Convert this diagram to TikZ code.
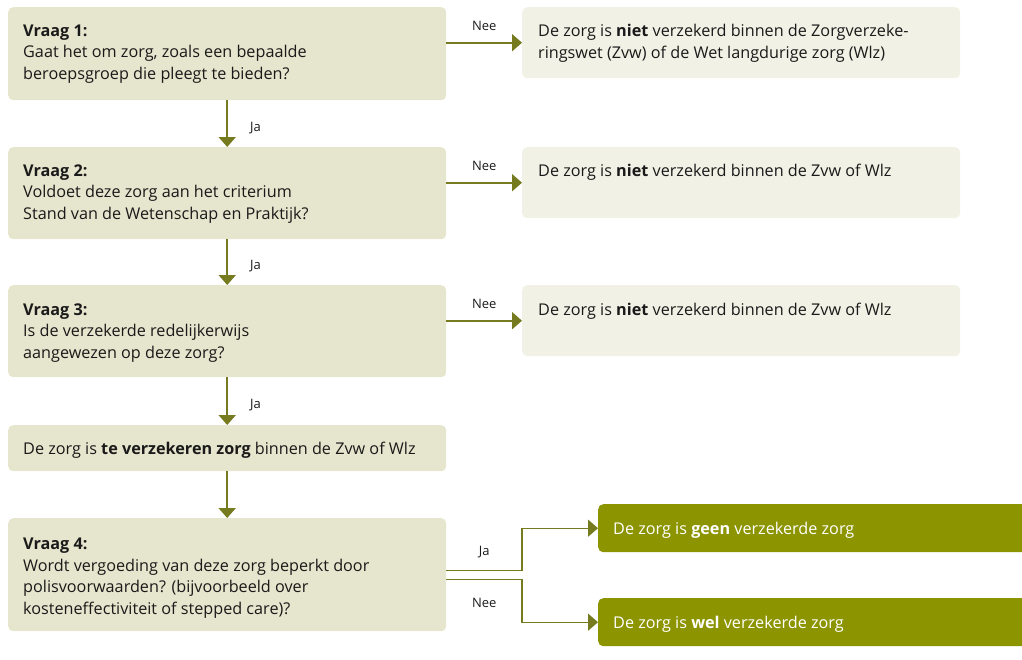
\documentclass[tikz,border=0pt]{standalone}
\usepackage{fontspec}
\setmainfont{Open Sans}
\usetikzlibrary{arrows.meta}
\definecolor{vraagkleur}{HTML}{E6E5CD}
\definecolor{nietkleur}{HTML}{F2F1E5}
\definecolor{donkerkleur}{HTML}{8C9400}
\definecolor{pijlkleur}{HTML}{757B1E}
\definecolor{tekstkleur}{HTML}{1A1A1A}
\tikzstyle{vak}=[rounded corners=5pt, inner sep=0pt, anchor=north west]
\tikzstyle{vraagvak}=[vak, fill=vraagkleur, minimum width=438pt]
\tikzstyle{nietvak}=[vak, fill=nietkleur, minimum width=438pt, minimum height=71pt]
\tikzstyle{welvak}=[vak, fill=donkerkleur, minimum width=440pt, minimum height=48pt]
\tikzstyle{tekst}=[anchor=base west, inner sep=0pt, align=left,
    font=\fontsize{16.2}{21.5}\selectfont, text=tekstkleur]
\tikzstyle{keuze}=[inner sep=0pt, font=\fontsize{13}{15}\selectfont, text=tekstkleur]
\tikzstyle{pijl}=[draw=pijlkleur, line width=2pt, -{Triangle[length=10pt,width=17pt]}]
\tikzstyle{dunpijl}=[pijl, line width=1.4pt]

\begin{document}
\begin{tikzpicture}[x=1pt, y=-1pt]
    \clip (0,0) rectangle (1022,659);
    \node[vraagvak, minimum height=93pt] (v1) at (8,7) {};
    \node[nietvak] (n1) at (522,7) {};
    \node[vraagvak, minimum height=92pt] (v2) at (8,147) {};
    \node[nietvak] (n2) at (522,147) {};
    \node[vraagvak, minimum height=92pt] (v3) at (8,285) {};
    \node[nietvak] (n3) at (522,285) {};
    \node[vraagvak, minimum height=46pt] (tv) at (8,425) {};
    \node[vraagvak, minimum height=113pt] (v4) at (8,518) {};
    \node[welvak] (geen) at (598,504) {};
    \node[welvak] (wel) at (598,598) {};
    \coordinate (knik) at (522,0);

    \node[tekst] (v1t) at (23,79) {\textbf{Vraag 1:}\\Gaat het om zorg, zoals een bepaalde\\beroepsgroep die pleegt te bieden?};
    \node[tekst] (n1t) at (538,58) {De zorg is \textbf{niet} verzekerd binnen de Zorgverzeke-\\ringswet (Zvw) of de Wet langdurige zorg (Wlz)};
    \node[tekst] (v2t) at (23,219) {\textbf{Vraag 2:}\\Voldoet deze zorg aan het criterium\\Stand van de Wetenschap en Praktijk?};
    \node[tekst] (n2t) at (538,176) {De zorg is \textbf{niet} verzekerd binnen de Zvw of Wlz};
    \node[tekst] (v3t) at (23,358) {\textbf{Vraag 3:}\\Is de verzekerde redelijkerwijs\\aangewezen op deze zorg?};
    \node[tekst] (n3t) at (538,315) {De zorg is \textbf{niet} verzekerd binnen de Zvw of Wlz};
    \node[tekst] (tvt) at (23,454) {De zorg is \textbf{te verzekeren zorg} binnen de Zvw of Wlz};
    \node[tekst] (v4t) at (23,614) {\textbf{Vraag 4:}\\Wordt vergoeding van deze zorg beperkt door\\polisvoorwaarden? (bijvoorbeeld over\\kosteneffectiviteit of stepped care)?};
    \node[tekst, text=white] (geent) at (613,534) {De zorg is \textbf{geen} verzekerde zorg};
    \node[tekst, text=white] (welt) at (613,628) {De zorg is \textbf{wel} verzekerde zorg};

    \draw[pijl] (n1.west -| v1.east) -- node[keuze, above=11pt] {Nee} (n1.west);
    \draw[pijl] (n2.west -| v2.east) -- node[keuze, above=11pt] {Nee} (n2.west);
    \draw[pijl] (n3.west -| v3.east) -- node[keuze, above=11pt] {Nee} (n3.west);
    \draw[pijl] (v1.south) -- node[keuze, anchor=west, xshift=22pt, yshift=-4pt] {Ja} (v2.north);
    \draw[pijl] (v2.south) -- node[keuze, anchor=west, xshift=22pt, yshift=-4pt] {Ja} (v3.north);
    \draw[pijl] (v3.south) -- node[keuze, anchor=west, xshift=22pt, yshift=-4pt] {Ja} (tv.north);
    \draw[pijl] (tv.south) -- (v4.north);
    \coordinate (ja) at ([yshift=4.5pt]v4.east);
    \coordinate (nee) at ([yshift=-4.5pt]v4.east);
    \draw[dunpijl] (ja) -- node[keuze, above=12pt] {Ja} (ja -| knik) |- (geen.west);
    \draw[dunpijl] (nee) -- node[keuze, below=18pt] {Nee} (nee -| knik) |- (wel.west);
\end{tikzpicture}
\end{document}
